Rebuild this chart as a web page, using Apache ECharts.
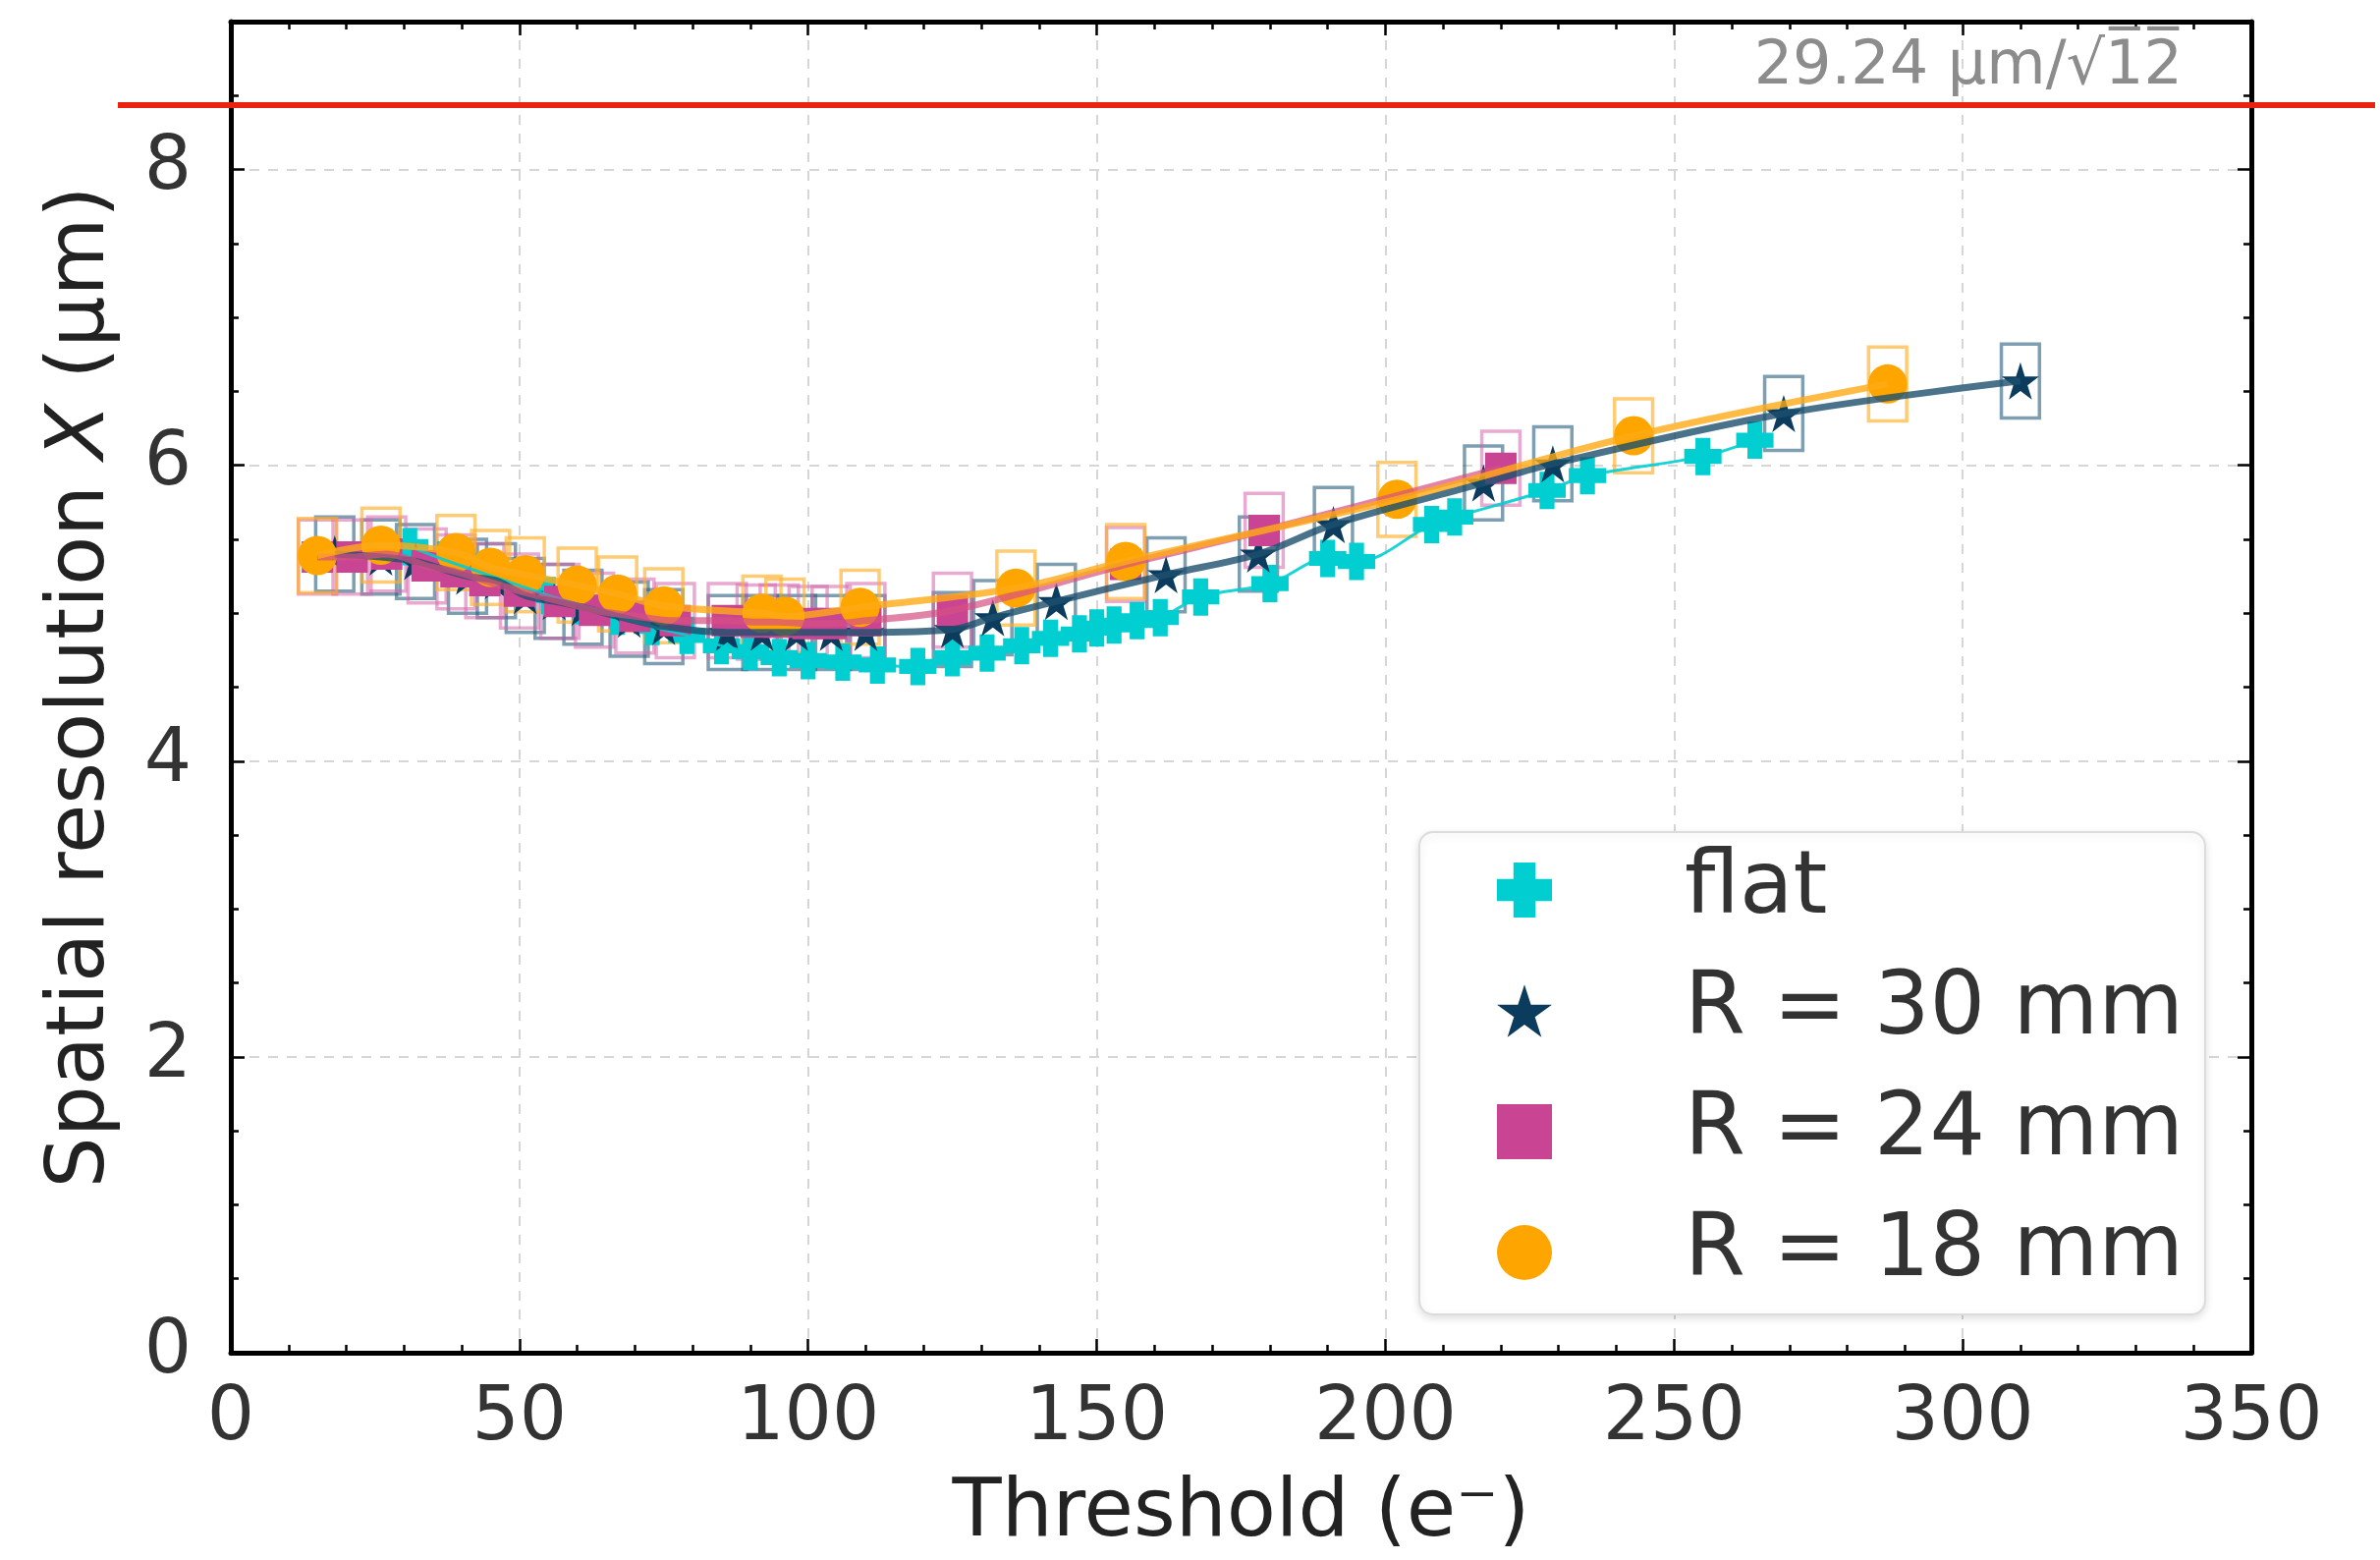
<!DOCTYPE html>
<html><head><meta charset="utf-8">
<script src="https://cdn.jsdelivr.net/npm/echarts@6/dist/echarts.min.js"></script>
<style>html,body{margin:0;padding:0;background:#fff}#c{width:2423px;height:1588px}</style>
</head><body><div id="c"></div>
<script>
// ---- data ----
const seriesNames = ['flat', 'R = 30 mm', 'R = 24 mm', 'R = 18 mm'];

const flatX = [31, 37, 43, 49, 55, 61, 67, 73, 79, 85, 90, 95, 100, 106, 112, 119, 125, 131, 137, 142, 147, 150, 153, 157, 161, 168, 180, 190, 195, 208, 212, 228, 235, 255, 264];
const flatY = [5.45, 5.36, 5.28, 5.20, 5.12, 5.05, 4.98, 4.91, 4.85, 4.78, 4.74, 4.70, 4.68, 4.67, 4.65, 4.64, 4.70, 4.73, 4.78, 4.83, 4.86, 4.90, 4.92, 4.95, 4.97, 5.11, 5.20, 5.37, 5.35, 5.60, 5.65, 5.83, 5.93, 6.06, 6.17];

const r30X = [18, 26, 32, 41, 46, 51, 56, 61, 69, 75, 86, 92, 98, 104, 110, 125, 132, 143, 162, 178, 191, 217, 229, 269, 310];
const r30Y = [5.40, 5.38, 5.35, 5.25, 5.22, 5.12, 5.08, 5.04, 4.96, 4.91, 4.87, 4.87, 4.87, 4.87, 4.87, 4.89, 4.97, 5.08, 5.26, 5.40, 5.60, 5.88, 6.01, 6.35, 6.57];

const r24X = [15, 21, 27, 34, 39, 44, 50, 57, 63, 70, 77, 86, 91, 95, 100, 104, 110, 125, 155, 179, 220];
const r24Y = [5.38, 5.38, 5.40, 5.32, 5.28, 5.22, 5.15, 5.08, 5.02, 4.98, 4.95, 4.95, 4.94, 4.94, 4.93, 4.93, 4.95, 5.02, 5.33, 5.56, 5.98];

const r18X = [15, 26, 39, 45, 51, 60, 67, 75, 92, 96, 109, 136, 155, 202, 243, 287];
const r18Y = [5.39, 5.46, 5.41, 5.31, 5.26, 5.19, 5.13, 5.05, 5.00, 4.98, 5.04, 5.17, 5.35, 5.77, 6.20, 6.55];

const xErr = 3.3;     // half width of error boxes (e-)
const yErr = 0.25;    // half height of error boxes (um)
const refValue = 8.44;          // 29.24 um / sqrt(12)
const refLabel = '29.24 μm/√1̅2̅';
const xRange = [0, 350], xMajor = 50, xMinor = 10;
const yRange = [0, 9], yMajor = 2, yMinor = 0.5;

// ---- styling ----
const FONT = 'DejaVu Sans';
const colors = ['#00CED1', '#0B3C5D', '#C94593', '#FFA500'];
const lineColors = ['rgba(0,206,209,0.9)', 'rgba(29,80,110,0.8)', 'rgba(214,80,130,0.7)', 'rgba(255,170,20,0.8)'];
const boxColors = [null, 'rgba(40,95,125,0.6)', 'rgba(214,100,170,0.55)', 'rgba(255,175,40,0.65)'];
const plusPath = 'path://M30,0H70V30H100V70H70V100H30V70H0V30H30Z';
const starPath = 'path://M50,0L61.23,34.55L97.55,34.55L68.17,55.9L79.39,90.45L50,69.1L20.61,90.45L31.83,55.9L2.45,34.55L38.77,34.55Z';
const symbols = [plusPath, starPath, 'rect', 'circle'];
const symbolSizes = [38, 38, 32, 40];
const lineWidths = [3, 7, 7, 7];

const xs = [flatX, r30X, r24X, r18X];
const ys = [flatY, r30Y, r24Y, r18Y];
const pairs = xs.map((xa, i) => xa.map((x, j) => [x, ys[i][j]]));

const series = [];
pairs.forEach((d, i) => {
  if (boxColors[i]) {
    series.push({
      name: seriesNames[i] + ' box', type: 'custom', xAxisIndex: 0, yAxisIndex: 0,
      data: d, encode: {x: 0, y: 1}, silent: true,
      renderItem: (params, api) => {
        const x = api.value(0), y = api.value(1);
        const p1 = api.coord([x - xErr, y + yErr]);
        const p2 = api.coord([x + xErr, y - yErr]);
        return {type: 'rect', shape: {x: p1[0], y: p1[1], width: p2[0] - p1[0], height: p2[1] - p1[1]},
          style: {fill: 'none', stroke: boxColors[i], lineWidth: 3.5}};
      }
    });
  }
  const line = {
    name: seriesNames[i] + ' line', type: 'line', xAxisIndex: 0, yAxisIndex: 0,
    data: d, showSymbol: false, smooth: 0.35, silent: true,
    lineStyle: {color: lineColors[i], width: lineWidths[i]}
  };
  if (i === 0) {
    line.markLine = {
      silent: true, symbol: 'none',
      lineStyle: {color: '#b0b0b0', type: [12, 8], width: 2},
      label: {show: true, position: 'insideEndTop', formatter: refLabel, color: '#8c8c8c',
        fontSize: 62, fontFamily: FONT, distance: [70, 6]},
      data: [{yAxis: refValue}]
    };
  }
  series.push(line);
  series.push({
    name: seriesNames[i], type: 'scatter', xAxisIndex: 0, yAxisIndex: 0,
    data: d, symbol: symbols[i], symbolSize: symbolSizes[i],
    itemStyle: {color: colors[i], opacity: 1}
  });
});
// red reference line across the whole figure width
series.push({
  name: 'ref', type: 'line', xAxisIndex: 4, yAxisIndex: 4, data: [], z: 10,
  markLine: {silent: true, symbol: 'none', label: {show: false},
    lineStyle: {color: '#E8230F', width: 6, type: 'solid'},
    data: [{yAxis: refValue}]}
});

const tickStyle = {color: '#000', width: 2.5};
function xAx(pos, interval, len, main) {
  return {
    type: 'value', gridIndex: 0, position: pos, min: xRange[0], max: xRange[1], interval: interval,
    axisLine: {show: main, onZero: false, lineStyle: {color: '#000', width: 5}},
    axisTick: {show: true, inside: true, length: len, lineStyle: tickStyle},
    axisLabel: {show: main && pos === 'bottom', fontSize: 76, color: '#333', margin: 30, fontFamily: FONT},
    splitLine: {show: main && pos === 'bottom', lineStyle: {color: '#d6d6d6', type: [10, 9], width: 2}},
    name: (main && pos === 'bottom') ? 'Threshold (e⁻)' : '',
    nameLocation: 'middle', nameGap: 124,
    nameTextStyle: {fontSize: 82, color: '#222', fontFamily: FONT}
  };
}
function yAx(pos, interval, len, main) {
  return {
    type: 'value', gridIndex: 0, position: pos, min: yRange[0], max: yRange[1], interval: interval,
    axisLine: {show: main, onZero: false, lineStyle: {color: '#000', width: 5}},
    axisTick: {show: true, inside: true, length: len, lineStyle: tickStyle},
    axisLabel: {show: main && pos === 'left', fontSize: 76, color: '#333', margin: 40, fontFamily: FONT, showMaxLabel: false},
    splitLine: {show: main && pos === 'left', lineStyle: {color: '#d6d6d6', type: [10, 9], width: 2}},
    name: (main && pos === 'left') ? 'Spatial resolution {i|X} (μm)' : '',
    nameLocation: 'middle', nameGap: 110,
    nameTextStyle: {fontSize: 82, color: '#222', fontFamily: FONT,
      rich: {i: {fontStyle: 'italic', fontSize: 82, color: '#222', fontFamily: FONT}}}
  };
}

const option = {
  animation: false,
  backgroundColor: '#fff',
  textStyle: {fontFamily: FONT},
  grid: [
    {left: 235, right: 131, top: 22, bottom: 205, containLabel: false},
    {left: 120, right: 5, top: 22, bottom: 205, containLabel: false}
  ],
  xAxis: [
    xAx('bottom', xMajor, 14, true), xAx('bottom', xMinor, 8, false),
    xAx('top', xMajor, 14, true), xAx('top', xMinor, 8, false),
    {type: 'value', gridIndex: 1, min: 0, max: 1, show: false}
  ],
  yAxis: [
    yAx('left', yMajor, 14, true), yAx('left', yMinor, 8, false),
    yAx('right', yMajor, 14, true), yAx('right', yMinor, 8, false),
    {type: 'value', gridIndex: 1, min: yRange[0], max: yRange[1], show: false}
  ],
  legend: {
    orient: 'vertical', left: 1445, top: 847,
    data: seriesNames.map((n, i) => ({name: n, icon: symbols[i]})),
    itemWidth: 56, itemHeight: 56, itemGap: 33,
    textStyle: {fontSize: 89, color: '#333', fontFamily: FONT, padding: [0, 0, 0, 130], lineHeight: 90},
    backgroundColor: '#fff', borderColor: '#dcdcdc', borderWidth: 2, borderRadius: 14,
    padding: [14, 22, 18, 79],
    shadowBlur: 8, shadowColor: 'rgba(0,0,0,0.12)', shadowOffsetY: 3,
    selectedMode: false
  },
  series: series
};
const chart = echarts.init(document.getElementById('c'), null, {renderer: 'canvas'});
chart.setOption(option);
</script>
</body></html>
